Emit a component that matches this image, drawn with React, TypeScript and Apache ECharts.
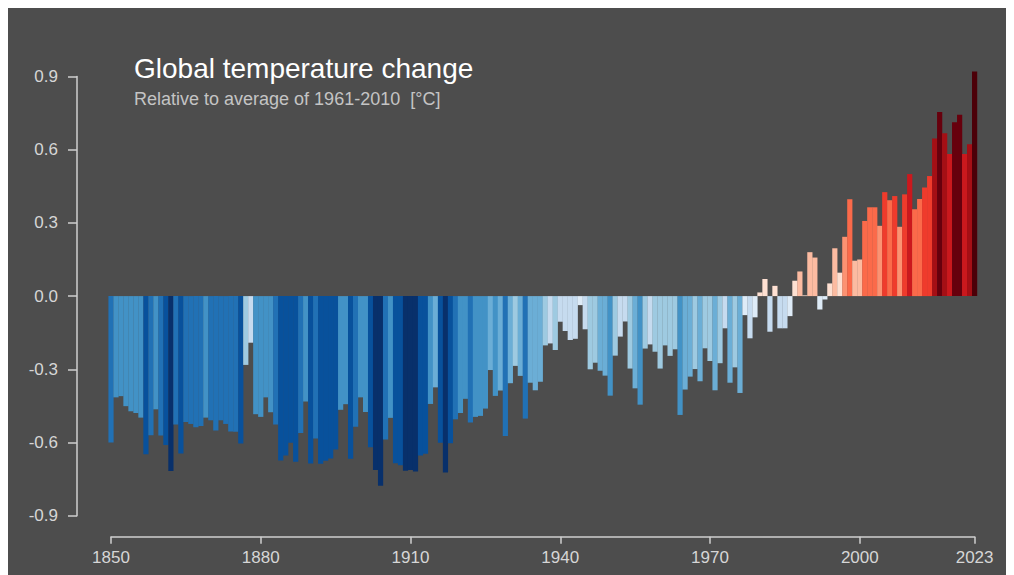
import React, { useEffect, useRef } from "react";
import * as echarts from "echarts";

const startYear = 1850;
const years: number[] = [];
for (let y = 1850; y <= 2023; y++) years.push(y);

const anomalies: number[] = [
  // 1850-1859
  -0.6, -0.415, -0.41, -0.451, -0.472, -0.479, -0.498, -0.648, -0.57, -0.464,
  // 1860-1869
  -0.571, -0.61, -0.717, -0.526, -0.645, -0.516, -0.524, -0.537, -0.532, -0.498,
  // 1870-1879
  -0.509, -0.551, -0.509, -0.524, -0.555, -0.556, -0.604, -0.282, -0.191, -0.484,
  // 1880-1889
  -0.495, -0.415, -0.476, -0.526, -0.674, -0.653, -0.601, -0.679, -0.561, -0.432,
  // 1890-1899
  -0.686, -0.584, -0.687, -0.675, -0.666, -0.629, -0.466, -0.443, -0.667, -0.535,
  // 1900-1909
  -0.415, -0.475, -0.619, -0.713, -0.777, -0.588, -0.499, -0.685, -0.693, -0.716,
  // 1910-1919
  -0.713, -0.719, -0.653, -0.646, -0.442, -0.374, -0.601, -0.723, -0.603, -0.505,
  // 1920-1929
  -0.479, -0.421, -0.518, -0.495, -0.491, -0.461, -0.303, -0.409, -0.387, -0.573,
  // 1930-1939
  -0.357, -0.286, -0.327, -0.502, -0.355, -0.386, -0.351, -0.202, -0.194, -0.221,
  // 1940-1949
  -0.105, -0.143, -0.18, -0.175, -0.037, -0.136, -0.3, -0.273, -0.306, -0.326,
  // 1950-1959
  -0.408, -0.244, -0.166, -0.104, -0.297, -0.378, -0.445, -0.215, -0.198, -0.228,
  // 1960-1969
  -0.297, -0.202, -0.245, -0.218, -0.487, -0.383, -0.33, -0.299, -0.349, -0.214,
  // 1970-1979
  -0.266, -0.386, -0.275, -0.132, -0.355, -0.292, -0.397, -0.078, -0.173, -0.087,
  // 1980-1989
  0.015, 0.07, -0.146, 0.042, -0.132, -0.132, -0.082, 0.063, 0.101, 0.003,
  // 1990-1999
  0.18, 0.158, -0.055, -0.014, 0.052, 0.196, 0.096, 0.243, 0.397, 0.145,
  // 2000-2009
  0.15, 0.308, 0.364, 0.364, 0.288, 0.426, 0.393, 0.41, 0.284, 0.417,
  // 2010-2019
  0.5, 0.356, 0.398, 0.445, 0.492, 0.646, 0.754, 0.667, 0.582, 0.713,
  // 2020-2023
  0.743, 0.582, 0.622, 0.921,
];

const yTicks = [-0.9, -0.6, -0.3, 0.0, 0.3, 0.6, 0.9];
const xTickYears = [1850, 1880, 1910, 1940, 1970, 2000, 2023];

const stripeColors = [
  "#08306b", "#08519c", "#2171b5", "#4292c6", "#6baed6", "#9ecae1", "#c6dbef", "#deebf7",
  "#fee0d2", "#fcbba1", "#fc9272", "#fb6a4a", "#ef3b2c", "#cb181d", "#a50f15", "#67000d",
  "#4c0008",
];

function colorFor(v: number): string {
  let idx = Math.floor((v + 0.8) / 0.1);
  if (idx < 0) idx = 0;
  if (idx > stripeColors.length - 1) idx = stripeColors.length - 1;
  return stripeColors[idx];
}

const FONT = "'Liberation Sans', Arial, Helvetica, sans-serif";

export default function App() {
  const ref = useRef<HTMLDivElement>(null);
  useEffect(() => {
    if (!ref.current) return;
    const chart = echarts.init(ref.current, undefined, { renderer: "svg" });
    const data = years.map((y, i) => ({
      value: [y - startYear, anomalies[i]],
      itemStyle: { color: colorFor(anomalies[i]) },
    }));
    chart.setOption({
      animation: false,
      backgroundColor: "#4d4d4d",
      title: {
        text: "Global temperature change",
        subtext: "Relative to average of 1961-2010  [°C]",
        left: 121,
        top: 41,
        itemGap: 8,
        textStyle: { color: "#ffffff", fontSize: 28, fontWeight: "normal", fontFamily: FONT },
        subtextStyle: { color: "#c4c4c4", fontSize: 18, fontFamily: FONT },
      },
      grid: { left: 103, right: 47.4, top: 68.5, bottom: 67.3 },
      xAxis: {
        type: "value",
        min: 0,
        max: xTickYears[xTickYears.length - 1] - startYear,
        interval: 30,
        offset: 21,
        axisLine: { show: true, onZero: false, lineStyle: { color: "#cfcfcf", width: 1.5 } },
        axisTick: { show: true, length: 7, lineStyle: { color: "#cfcfcf", width: 1.5 } },
        axisLabel: {
          color: "#d6d6d6",
          fontSize: 17,
          fontFamily: FONT,
          margin: 12,
          formatter: (v: number) => String(Math.round(v) + startYear),
        },
        splitLine: { show: false },
      },
      yAxis: {
        type: "value",
        min: yTicks[0],
        max: yTicks[yTicks.length - 1],
        interval: 0.3,
        offset: 34,
        axisLine: { show: true, onZero: false, lineStyle: { color: "#cfcfcf", width: 1.5 } },
        axisTick: { show: true, length: 9, lineStyle: { color: "#cfcfcf", width: 1.5 } },
        axisLabel: {
          color: "#d6d6d6",
          fontSize: 17,
          fontFamily: FONT,
          margin: 19,
          formatter: (v: number) => (Math.abs(v) < 1e-9 ? "0.0" : v.toFixed(1)),
        },
        splitLine: { show: false },
      },
      series: [
        {
          type: "bar",
          data,
          barWidth: 5.2,
          clip: false,
        },
      ],
    });
    return () => chart.dispose();
  }, []);
  return <div ref={ref} style={{ width: 1014, height: 575 }} />;
}
